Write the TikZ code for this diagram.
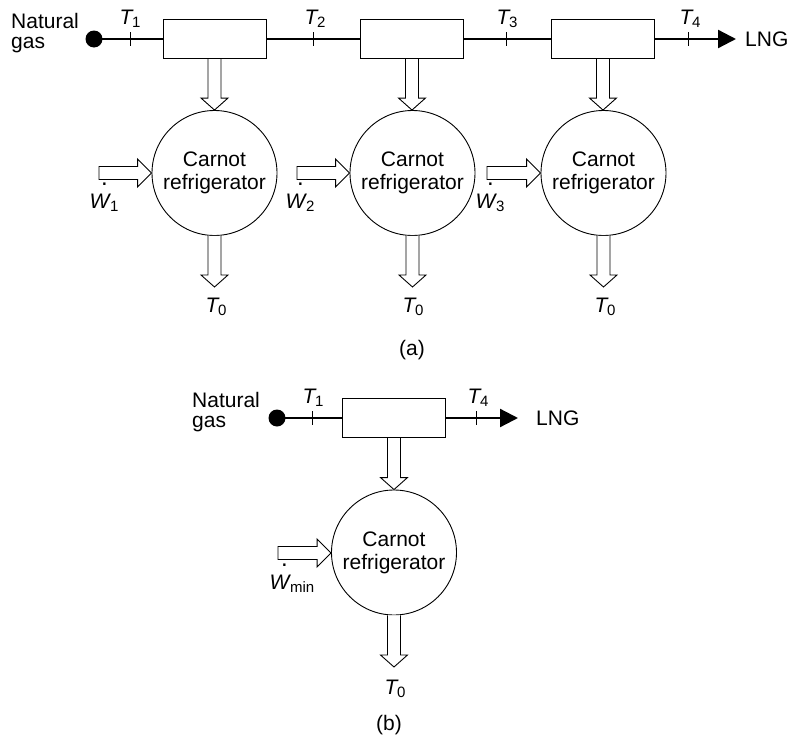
\documentclass[tikz,border=0pt]{standalone}
\usepackage{fontspec}
\setmainfont{Liberation Sans}
\usetikzlibrary{calc,arrows.meta}

\newcommand\lsub[1]{\raisebox{-0.15em}{\fontsize{15}{15}\selectfont #1}}
\newcommand\Tl[1]{\textit{T}\kern-1.5pt\lsub{#1}}
\newcommand\Wl[1]{\rlap{\hspace{0.55em}\raisebox{1.05em}{\fontsize{24}{24}\selectfont.}}\textit{W}\kern-1pt\lsub{#1}}

\newcommand\hdown[2]{\draw[hollow] let \p1=(#1), \p2=(#2) in
  (\x1-6.5pt,\y1) -- (\x1-6.5pt,\y2+12pt) -- (\x1-13.5pt,\y2+12pt) -- (\x1,\y2)
  -- (\x1+13.5pt,\y2+12pt) -- (\x1+6.5pt,\y2+12pt) -- (\x1+6.5pt,\y1);}
\newcommand\hright[2]{\draw[hollow] let \p1=(#1), \p2=(#2) in
  (\x1,\y1-6.5pt) -- (\x2-14pt,\y1-6.5pt) -- (\x2-14pt,\y1-14pt) -- (\x2,\y1)
  -- (\x2-14pt,\y1+14pt) -- (\x2-14pt,\y1+6.5pt) -- (\x1,\y1+6.5pt) -- cycle;}

\tikzset{
  dotn/.style={circle,fill=black,inner sep=0,minimum size=17pt},
  boxn/.style={draw,line width=1pt,minimum width=103pt,minimum height=39pt,inner sep=0},
  carnot/.style={circle,draw,line width=0.9pt,minimum size=125pt,inner sep=0,align=center},
  mainline/.style={line width=2.3pt},
  tickl/.style={line width=1pt},
  hollow/.style={draw,fill=white,line width=0.9pt,line join=miter},
  lbl/.style={inner sep=0},
  ngl/.style={anchor=north west,align=left,inner sep=0,font=\fontsize{21}{20}\selectfont},
  lngtip/.style={-{Triangle[length=18pt,width=18pt]}}
}

\begin{document}
\begin{tikzpicture}[x=1pt,y=-1pt,font=\fontsize{21}{23}\selectfont]
\useasboundingbox (0,0) rectangle (788,739);

% ---------------- (a) ----------------
\node[ngl] (ng1) at (11,13) {Natural\\gas};
\node[dotn] (d1) at (94,39) {};
\node[boxn] (b1) at (214.5,39) {};
\node[boxn] (b2) at (412,39) {};
\node[boxn] (b3) at (603,39) {};
\coordinate (t1) at (130,39);
\coordinate (t2) at (313,39);
\coordinate (t3) at (506,39);
\coordinate (t4) at (688,39);
\coordinate (tipa) at (736,39);
\node[lbl,anchor=west] (lnga) at (745,39) {LNG};

\draw[mainline] (d1.center) -- (b1.west);
\draw[mainline] (b1.east) -- (b2.west);
\draw[mainline] (b2.east) -- (b3.west);
\draw[mainline,lngtip] (b3.east) -- (tipa);
\foreach \t in {t1,t2,t3,t4} \draw[tickl] (\t) ++(0,-7) -- ++(0,14);

\node[lbl,anchor=base] (lt1) at (130,24) {\Tl{1}};
\node[lbl,anchor=base] (lt2) at (315,24) {\Tl{2}};
\node[lbl,anchor=base] (lt3) at (507,24) {\Tl{3}};
\node[lbl,anchor=base] (lt4) at (690,24) {\Tl{4}};

\node[carnot] (c1) at (214.5,173) {Carnot\\refrigerator};
\node[carnot] (c2) at (412.5,173) {Carnot\\refrigerator};
\node[carnot] (c3) at (603.5,173) {Carnot\\refrigerator};

\hdown{b1.south}{c1.north}
\hdown{b2.south}{c2.north}
\hdown{b3.south}{c3.north}

\coordinate (w1s) at (99,173);
\coordinate (w2s) at (297,173);
\coordinate (w3s) at (487,173);
\hright{w1s}{c1.west}
\hright{w2s}{c2.west}
\hright{w3s}{c3.west}

\coordinate (o1) at (214.5,287);
\coordinate (o2) at (412.5,287);
\coordinate (o3) at (603.5,287);
\hdown{c1.south}{o1}
\hdown{c2.south}{o2}
\hdown{c3.south}{o3}

\node[lbl,anchor=base] (lw1) at (104,208) {\Wl{1}};
\node[lbl,anchor=base] (lw2) at (300,208) {\Wl{2}};
\node[lbl,anchor=base] (lw3) at (490,208) {\Wl{3}};

\node[lbl,anchor=base] (lo1) at (216,312) {\Tl{0}};
\node[lbl,anchor=base] (lo2) at (413,312) {\Tl{0}};
\node[lbl,anchor=base] (lo3) at (605,312) {\Tl{0}};

\node[lbl] (capa) at (412,350) {(a)};

% ---------------- (b) ----------------
\node[ngl] (ng2) at (192,392) {Natural\\gas};
\node[dotn] (d2) at (277,418) {};
\node[boxn] (bb) at (394,418) {};
\coordinate (u1) at (312,418);
\coordinate (u4) at (476,418);
\coordinate (tipb) at (518,418);
\node[lbl,anchor=west] (lngb) at (536,418) {LNG};

\draw[mainline] (d2.center) -- (bb.west);
\draw[mainline,lngtip] (bb.east) -- (tipb);
\foreach \t in {u1,u4} \draw[tickl] (\t) ++(0,-7) -- ++(0,14);

\node[lbl,anchor=base] (lu1) at (313,403) {\Tl{1}};
\node[lbl,anchor=base] (lu4) at (478,403) {\Tl{4}};

\node[carnot] (cb) at (394,552.5) {Carnot\\refrigerator};
\hdown{bb.south}{cb.north}
\coordinate (wbs) at (278,553);
\hright{wbs}{cb.west}
\coordinate (ob) at (394,667);
\hdown{cb.south}{ob}

\node[lbl,anchor=base] (lwb) at (292,589) {\Wl{min}};
\node[lbl,anchor=base] (lob) at (395,694) {\Tl{0}};
\node[lbl] (capb) at (389,725) {(b)};
\end{tikzpicture}
\end{document}
